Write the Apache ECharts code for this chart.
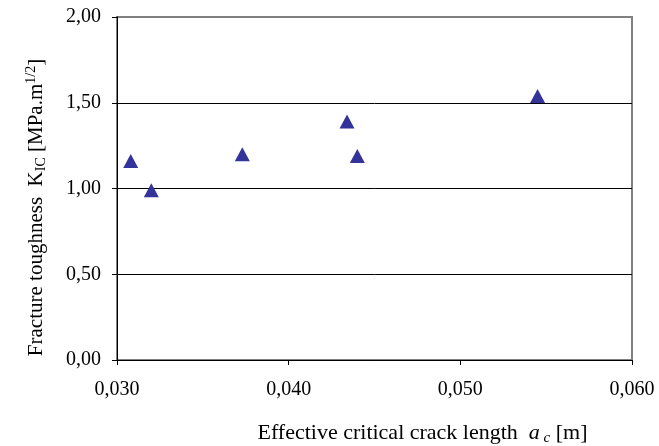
<!DOCTYPE html>
<html>
<head>
<meta charset="utf-8">
<script src="https://cdn.jsdelivr.net/npm/echarts@6/dist/echarts.min.js"></script>
<style>
html,body{margin:0;padding:0;background:#fff;}
#chart{width:659px;height:446px;}
</style>
</head>
<body>
<div id="chart"></div>
<script>
// Data
const crackLength = [0.0308, 0.0320, 0.0373, 0.0434, 0.0440, 0.0545]; // a_c [m]
const toughness   = [1.16, 0.99, 1.20, 1.39, 1.19, 1.54];            // K_IC [MPa.m^1/2]
const xTicks = [0.030, 0.040, 0.050, 0.060];
const yTicks = [0.00, 0.50, 1.00, 1.50, 2.00];

const points = crackLength.map((x, i) => [x, toughness[i]]);
const serif = 'Liberation Serif, Times New Roman, serif';
const fmtComma = (v, d) => v.toFixed(d).replace('.', ',');

const chart = echarts.init(document.getElementById('chart'), null, {renderer: 'canvas'});
chart.setOption({
  animation: false,
  backgroundColor: '#ffffff',
  grid: {
    left: 117, right: 27, top: 17, bottom: 86,
    outerBoundsMode: 'none',
    containLabel: false,
    show: true, borderColor: '#808080', borderWidth: 2, backgroundColor: 'transparent'
  },
  xAxis: {
    type: 'value',
    min: xTicks[0], max: xTicks[xTicks.length - 1], interval: 0.01,
    axisLine: {show: true, onZero: false, lineStyle: {color: '#000', width: 1}},
    axisTick: {show: true, inside: false, length: 5, lineStyle: {color: '#000'}},
    splitLine: {show: false},
    axisLabel: {
      margin: 20, color: '#000', fontFamily: serif, fontSize: 20,
      formatter: v => fmtComma(v, 3)
    },
    name: 'Effective critical crack length  {it|a}{itsub| c} [m]',
    nameLocation: 'middle',
    nameGap: 61,
    nameTextStyle: {
      color: '#000', fontFamily: serif, fontSize: 22,
      padding: [0, 0, 0, 96],
      rich: {
        it: {fontFamily: serif, fontStyle: 'italic', fontSize: 22, color: '#000'},
        itsub: {fontFamily: serif, fontStyle: 'italic', fontSize: 15, color: '#000', padding: [10, 0, 0, 0]}
      }
    }
  },
  yAxis: {
    type: 'value',
    min: yTicks[0], max: yTicks[yTicks.length - 1], interval: 0.5,
    axisLine: {show: true, onZero: false, lineStyle: {color: '#000', width: 1}},
    axisTick: {show: true, inside: false, length: 5, lineStyle: {color: '#000'}},
    splitLine: {show: true, lineStyle: {color: ['#000', '#000', '#000', '#000', '#808080'], width: 1}},
    axisLabel: {
      margin: 16, color: '#000', fontFamily: serif, fontSize: 20,
      formatter: v => fmtComma(v, 2)
    },
    name: 'Fracture toughness  K{sub|IC} [MPa.m{sup|1/2}]',
    nameLocation: 'middle',
    nameRotate: 90,
    nameGap: 68,
    nameTextStyle: {
      color: '#000', fontFamily: serif, fontSize: 21,
      padding: [0, 38, 0, 0],
      rich: {
        sub: {fontFamily: serif, fontSize: 14, color: '#000', padding: [9, 0, 0, 0]},
        sup: {fontFamily: serif, fontSize: 14, color: '#000', padding: [0, 0, 11, 0]}
      }
    }
  },
  series: [{
    type: 'scatter',
    data: points,
    symbol: 'triangle',
    symbolSize: [15, 14],
    itemStyle: {color: '#333399', opacity: 1}
  }]
});
</script>
</body>
</html>
